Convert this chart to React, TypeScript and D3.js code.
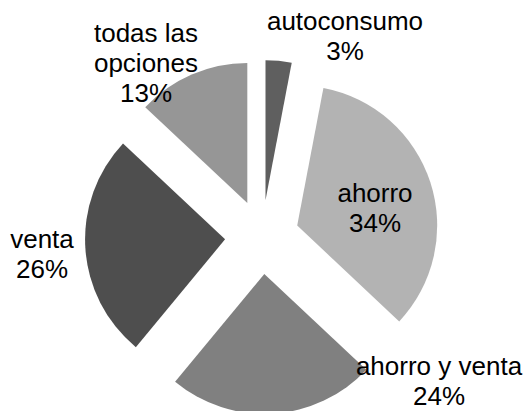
import React from "react";
import * as d3 from "d3";

const categories = ["autoconsumo", "ahorro", "ahorro y venta", "venta", "todas las opciones"];
const values = [3, 34, 24, 26, 13];
const percentLabels = ["3%", "34%", "24%", "26%", "13%"];
const labelLines = [["autoconsumo"], ["ahorro"], ["ahorro y venta"], ["venta"], ["todas las", "opciones"]];

const colors = ["#5f5f5f", "#b3b3b3", "#808080", "#4e4e4e", "#969696"];

// layout: label block anchor (x center, first baseline)
const labelAnchors = [
  [345, 30],
  [375, 202],
  [439, 375],
  [42, 248],
  [146, 42],
];

const W = 528;
const H = 411;
const cx = 262;
const cy = 237;
const R = 140;
const explode = 37;
const lineH = 30;

export default function App() {
  const pie = d3.pie<number>().sort(null).value((d) => d)(values);
  const arc = d3.arc<d3.PieArcDatum<number>>().innerRadius(0).outerRadius(R);
  return (
    <svg
      width={W}
      height={H}
      style={{ position: "absolute", left: 0, top: 0, background: "#fff" }}
      fontFamily="'Liberation Sans', Arial, sans-serif"
      fontSize={26}
    >
      <g transform={`translate(${cx},${cy})`}>
        {pie.map((p, i) => {
          const mid = (p.startAngle + p.endAngle) / 2;
          const dx = Math.sin(mid) * explode;
          const dy = -Math.cos(mid) * explode;
          return (
            <path
              key={i}
              d={arc(p) || ""}
              transform={`translate(${dx},${dy})`}
              fill={colors[i]}
            />
          );
        })}
      </g>
      {categories.map((c, i) => {
        const [x, y] = labelAnchors[i];
        const lines = [...labelLines[i], percentLabels[i]];
        return (
          <text key={c} textAnchor="middle" fill="#000">
            {lines.map((l, j) => (
              <tspan key={j} x={x} y={y + j * lineH}>
                {l}
              </tspan>
            ))}
          </text>
        );
      })}
    </svg>
  );
}
